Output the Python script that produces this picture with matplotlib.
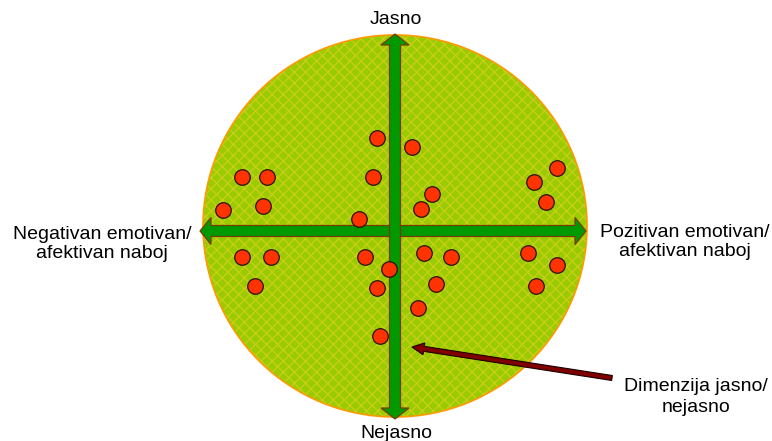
import matplotlib
matplotlib.use("Agg")
import matplotlib.pyplot as plt
import numpy as np
from matplotlib.patches import Ellipse, Polygon

plt.rcParams["font.family"] = ["Liberation Sans", "DejaVu Sans"]
plt.rcParams["hatch.linewidth"] = 0.9

# koordinatni sustav u pikselima slike (0..772 x 0..441)
W, H = 772, 441

# krug
krug_centar = (395, 226)
krug_sirina, krug_visina = 384, 382

# osi (krajevi strelica)
os_x = (200, 586, 231)    # lijevo, desno, y
os_y = (34, 419, 395)     # gore, dolje, x

# tocke
tocke_x = [377, 412, 242, 267, 373, 432, 534, 557, 546, 223, 263, 359, 421,
           242, 271, 365, 389, 424, 451, 528, 557, 255, 377, 436, 418, 536, 380]
tocke_y = [138, 147, 177, 177, 177, 194, 182, 168, 202, 210, 206, 219, 209,
           257, 257, 257, 269, 253, 257, 253, 265, 286, 288, 284, 308, 286, 336]

# pokazivac
pokazivac_od = (612, 378)
pokazivac_do = (412, 347)

oznake = {
    "gore": "Jasno",
    "dolje": "Nejasno",
    "lijevo": "Negativan emotivan/\nafektivan naboj",
    "desno": "Pozitivan emotivan/\nafektivan naboj",
    "pokazivac": "Dimenzija jasno/\nnejasno",
}


def dvostruka_strelica(p0, p1, sirina, glava_sir, glava_duz):
    p0, p1 = np.array(p0, float), np.array(p1, float)
    d = (p1 - p0) / np.linalg.norm(p1 - p0)
    n = np.array([-d[1], d[0]])
    a, b = p0 + d * glava_duz, p1 - d * glava_duz
    return [p0, a + n * glava_sir / 2, a + n * sirina / 2, b + n * sirina / 2,
            b + n * glava_sir / 2, p1, b - n * glava_sir / 2, b - n * sirina / 2,
            a - n * sirina / 2, a - n * glava_sir / 2]


def strelica(p0, p1, sirina, glava_sir, glava_duz):
    p0, p1 = np.array(p0, float), np.array(p1, float)
    d = (p1 - p0) / np.linalg.norm(p1 - p0)
    n = np.array([-d[1], d[0]])
    b = p1 - d * glava_duz
    return [p0 + n * sirina / 2, b + n * sirina / 2, b + n * glava_sir / 2, p1,
            b - n * glava_sir / 2, b - n * sirina / 2, p0 - n * sirina / 2]


fig = plt.figure(figsize=(W / 100, H / 100), dpi=100)
ax = fig.add_axes([0, 0, 1, 1])
ax.set_xlim(0, W)
ax.set_ylim(H, 0)
ax.axis("off")

ax.add_patch(Ellipse(krug_centar, krug_sirina, krug_visina, facecolor="#99cc00",
                     edgecolor="#cccc1a", lw=0, hatch="xxx", zorder=1))
ax.add_patch(Ellipse(krug_centar, krug_sirina, krug_visina, facecolor="none",
                     edgecolor="#ff9900", lw=1.2, zorder=2))

ax.add_patch(Polygon(dvostruka_strelica((os_x[0], os_x[2]), (os_x[1], os_x[2]), 11, 27, 11),
                     facecolor="#009900", edgecolor="#7a3b00", lw=0.9, zorder=3))
ax.add_patch(Polygon(dvostruka_strelica((os_y[2], os_y[0]), (os_y[2], os_y[1]), 11, 28, 11),
                     facecolor="#009900", edgecolor="#7a3b00", lw=0.9, zorder=4))

ax.scatter(tocke_x, tocke_y, s=125, facecolor="#ff3300", edgecolor="#2a1000",
           linewidths=0.9, zorder=5)

ax.add_patch(Polygon(strelica(pokazivac_od, pokazivac_do, 5, 12, 12),
                     facecolor="#800000", edgecolor="#1a0000", lw=0.8, zorder=6))

fs = 14
ax.text(os_y[2] + 1, 19, oznake["gore"], ha="center", va="center", fontsize=fs)
ax.text(os_y[2] + 1, 433, oznake["dolje"], ha="center", va="center", fontsize=fs)
ax.text(102, 244, oznake["lijevo"], ha="center", va="center", fontsize=fs, linespacing=1.2)
ax.text(685, 242, oznake["desno"], ha="center", va="center", fontsize=fs, linespacing=1.2)
ax.text(696, 397, oznake["pokazivac"], ha="center", va="center", fontsize=fs, linespacing=1.25)

plt.savefig("out.png", dpi=100)
